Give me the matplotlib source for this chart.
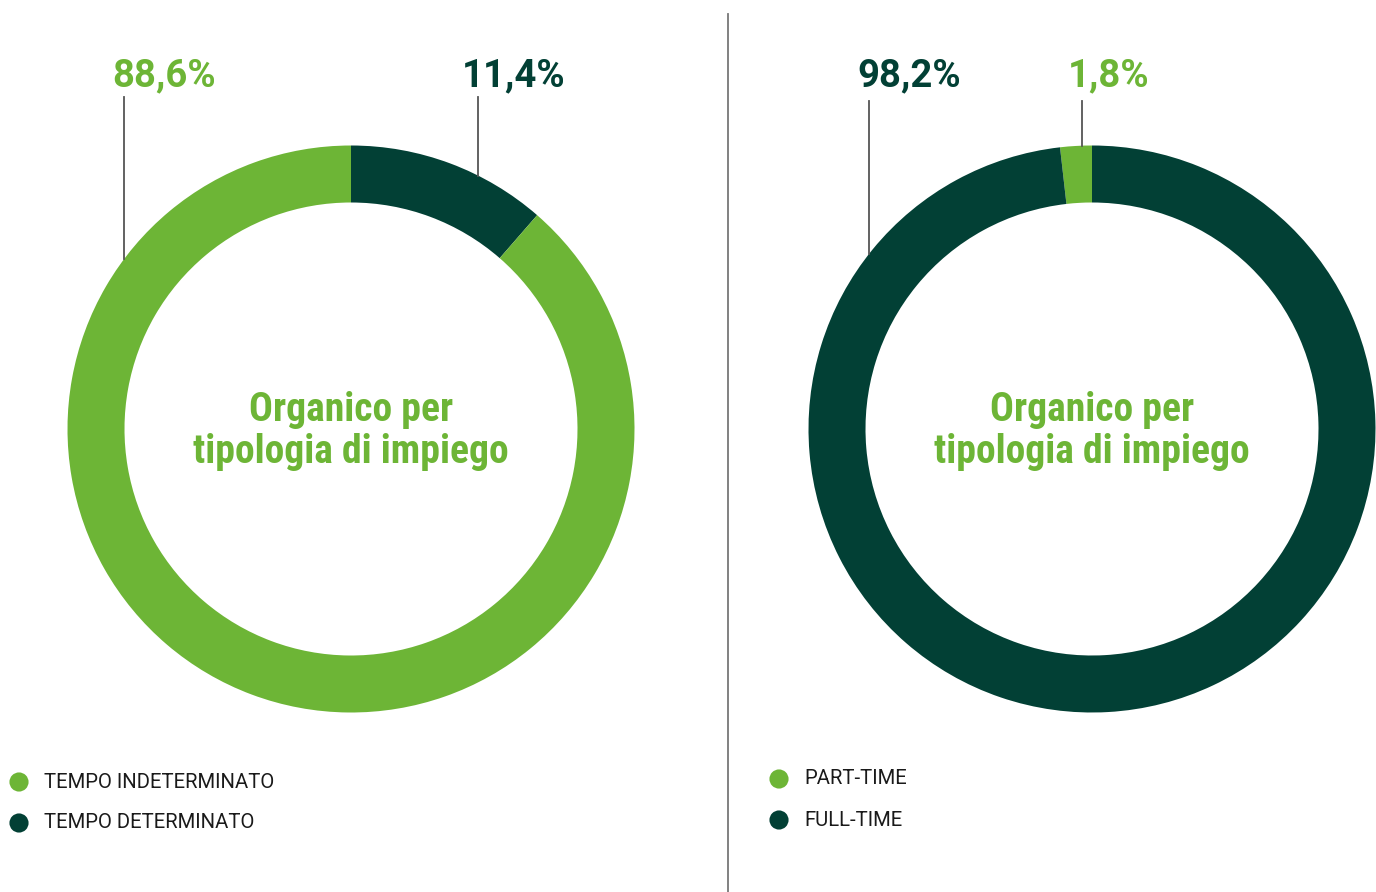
import matplotlib
matplotlib.use("Agg")
import matplotlib.pyplot as plt
import numpy as np
from matplotlib import font_manager as fm

# ---- data ----
left_labels = ["TEMPO INDETERMINATO", "TEMPO DETERMINATO"]
left_values = [88.6, 11.4]
right_labels = ["PART-TIME", "FULL-TIME"]
right_values = [1.8, 98.2]
center_title = "Organico per\ntipologia di impiego"

LIGHT = "#6db536"
DARK = "#024035"

W, H = 1376, 892
fig = plt.figure(figsize=(W / 100, H / 100), dpi=100)
ax = fig.add_axes([0, 0, 1, 1])

names = {f.name for f in fm.fontManager.ttflist}
cond = "Roboto Condensed" if "Roboto Condensed" in names else "Roboto"

R, WID = 283.5, 57


def Y(py):
    return H - py


def donut(cx, cy, values, colors, counterclock):
    ax.pie(values, colors=colors, center=(cx, Y(cy)), radius=R, startangle=90,
           counterclock=counterclock, frame=True,
           wedgeprops=dict(width=WID, edgecolor="none", linewidth=0))
    ax.text(cx, Y(cy) - 2, center_title, ha="center", va="center",
            fontsize=25 if cond == "Roboto" else 28.5, fontweight="bold",
            family=cond, color=LIGHT, linespacing=1.12)


def leader(cx, cy, x, ytop):
    yend = cy - np.sqrt(R ** 2 - (x - cx) ** 2)
    ax.plot([x, x], [Y(ytop), Y(yend)], color="#555555", lw=1.3)


# left donut (dark first clockwise from top)
lcx, lcy = 351, 429
donut(lcx, lcy, [left_values[1], left_values[0]], [DARK, LIGHT], counterclock=False)
# right donut (light first counter-clockwise from top)
rcx, rcy = 1092, 429
donut(rcx, rcy, right_values, [LIGHT, DARK], counterclock=True)

fmt = lambda v: f"{v:.1f}".replace(".", ",") + "%"
label_specs = [
    (lcx, lcy, 124, 97, 164, left_values[0], LIGHT),
    (lcx, lcy, 478, 97, 514, left_values[1], DARK),
    (rcx, rcy, 869, 101, 909, right_values[1], DARK),
    (rcx, rcy, 1082, 101, 1109, right_values[0], LIGHT),
]
for cx, cy, lx, ytop, tx, v, c in label_specs:
    leader(cx, cy, lx, ytop)
    ax.text(tx, Y(76), fmt(v), ha="center", va="center", fontsize=27.5,
            fontweight="bold", family="Roboto", color=c)

# separator
ax.plot([728, 728], [Y(14), Y(892)], color="#777777", lw=1.3)


# legends
def legend(x0, y0, labels, colors, dy):
    for i, (lab, col) in enumerate(zip(labels, colors)):
        yy = y0 + i * dy
        ax.scatter([x0], [Y(yy)], s=190, color=col, edgecolors="none")
        ax.text(x0 + 25, Y(yy), lab, ha="left", va="center", fontsize=14.6,
                family="Roboto", color="#1a1a1a")


legend(19, 782, left_labels, [LIGHT, DARK], 41)
legend(779, 779, right_labels, [LIGHT, DARK], 41)

ax.set_xlim(0, W)
ax.set_ylim(0, H)
ax.set_aspect("equal")
ax.axis("off")
fig.savefig("out.png", dpi=100, facecolor="white")
